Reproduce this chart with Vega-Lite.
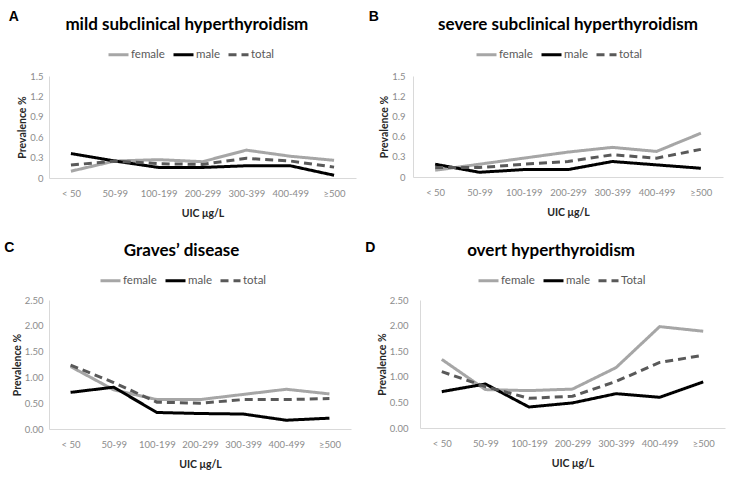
{
  "$schema": "https://vega.github.io/schema/vega-lite/v6.json",
  "background": "white",
  "padding": {"left": 4, "top": 10, "right": 4, "bottom": 4},
  "datasets": {
    "d": [
      {"p": "A", "s": "female", "u": "< 50", "v": 0.1},
      {"p": "A", "s": "female", "u": "50-99", "v": 0.25},
      {"p": "A", "s": "female", "u": "100-199", "v": 0.27},
      {"p": "A", "s": "female", "u": "200-299", "v": 0.24},
      {"p": "A", "s": "female", "u": "300-399", "v": 0.41},
      {"p": "A", "s": "female", "u": "400-499", "v": 0.32},
      {"p": "A", "s": "female", "u": "≥500", "v": 0.26},
      {"p": "A", "s": "male", "u": "< 50", "v": 0.36},
      {"p": "A", "s": "male", "u": "50-99", "v": 0.25},
      {"p": "A", "s": "male", "u": "100-199", "v": 0.155},
      {"p": "A", "s": "male", "u": "200-299", "v": 0.155},
      {"p": "A", "s": "male", "u": "300-399", "v": 0.18},
      {"p": "A", "s": "male", "u": "400-499", "v": 0.18},
      {"p": "A", "s": "male", "u": "≥500", "v": 0.04},
      {"p": "A", "s": "total", "u": "< 50", "v": 0.19},
      {"p": "A", "s": "total", "u": "50-99", "v": 0.25},
      {"p": "A", "s": "total", "u": "100-199", "v": 0.21},
      {"p": "A", "s": "total", "u": "200-299", "v": 0.2},
      {"p": "A", "s": "total", "u": "300-399", "v": 0.29},
      {"p": "A", "s": "total", "u": "400-499", "v": 0.25},
      {"p": "A", "s": "total", "u": "≥500", "v": 0.16},
      {"p": "B", "s": "female", "u": "< 50", "v": 0.1},
      {"p": "B", "s": "female", "u": "50-99", "v": 0.19},
      {"p": "B", "s": "female", "u": "100-199", "v": 0.28},
      {"p": "B", "s": "female", "u": "200-299", "v": 0.37},
      {"p": "B", "s": "female", "u": "300-399", "v": 0.44},
      {"p": "B", "s": "female", "u": "400-499", "v": 0.38},
      {"p": "B", "s": "female", "u": "≥500", "v": 0.65},
      {"p": "B", "s": "male", "u": "< 50", "v": 0.19},
      {"p": "B", "s": "male", "u": "50-99", "v": 0.07},
      {"p": "B", "s": "male", "u": "100-199", "v": 0.11},
      {"p": "B", "s": "male", "u": "200-299", "v": 0.11},
      {"p": "B", "s": "male", "u": "300-399", "v": 0.23},
      {"p": "B", "s": "male", "u": "400-499", "v": 0.18},
      {"p": "B", "s": "male", "u": "≥500", "v": 0.13},
      {"p": "B", "s": "total", "u": "< 50", "v": 0.14},
      {"p": "B", "s": "total", "u": "50-99", "v": 0.14},
      {"p": "B", "s": "total", "u": "100-199", "v": 0.19},
      {"p": "B", "s": "total", "u": "200-299", "v": 0.23},
      {"p": "B", "s": "total", "u": "300-399", "v": 0.33},
      {"p": "B", "s": "total", "u": "400-499", "v": 0.28},
      {"p": "B", "s": "total", "u": "≥500", "v": 0.41},
      {"p": "C", "s": "female", "u": "< 50", "v": 1.21},
      {"p": "C", "s": "female", "u": "50-99", "v": 0.76},
      {"p": "C", "s": "female", "u": "100-199", "v": 0.57},
      {"p": "C", "s": "female", "u": "200-299", "v": 0.57},
      {"p": "C", "s": "female", "u": "300-399", "v": 0.67},
      {"p": "C", "s": "female", "u": "400-499", "v": 0.77},
      {"p": "C", "s": "female", "u": "≥500", "v": 0.68},
      {"p": "C", "s": "male", "u": "< 50", "v": 0.71},
      {"p": "C", "s": "male", "u": "50-99", "v": 0.81},
      {"p": "C", "s": "male", "u": "100-199", "v": 0.32},
      {"p": "C", "s": "male", "u": "200-299", "v": 0.3},
      {"p": "C", "s": "male", "u": "300-399", "v": 0.29},
      {"p": "C", "s": "male", "u": "400-499", "v": 0.17},
      {"p": "C", "s": "male", "u": "≥500", "v": 0.21},
      {"p": "C", "s": "total", "u": "< 50", "v": 1.24},
      {"p": "C", "s": "total", "u": "50-99", "v": 0.9},
      {"p": "C", "s": "total", "u": "100-199", "v": 0.52},
      {"p": "C", "s": "total", "u": "200-299", "v": 0.5},
      {"p": "C", "s": "total", "u": "300-399", "v": 0.57},
      {"p": "C", "s": "total", "u": "400-499", "v": 0.57},
      {"p": "C", "s": "total", "u": "≥500", "v": 0.59},
      {"p": "D", "s": "female", "u": "< 50", "v": 1.34},
      {"p": "D", "s": "female", "u": "50-99", "v": 0.75},
      {"p": "D", "s": "female", "u": "100-199", "v": 0.73},
      {"p": "D", "s": "female", "u": "200-299", "v": 0.76},
      {"p": "D", "s": "female", "u": "300-399", "v": 1.18},
      {"p": "D", "s": "female", "u": "400-499", "v": 1.98},
      {"p": "D", "s": "female", "u": "≥500", "v": 1.89},
      {"p": "D", "s": "male", "u": "< 50", "v": 0.71},
      {"p": "D", "s": "male", "u": "50-99", "v": 0.86},
      {"p": "D", "s": "male", "u": "100-199", "v": 0.41},
      {"p": "D", "s": "male", "u": "200-299", "v": 0.49},
      {"p": "D", "s": "male", "u": "300-399", "v": 0.67},
      {"p": "D", "s": "male", "u": "400-499", "v": 0.6},
      {"p": "D", "s": "male", "u": "≥500", "v": 0.9},
      {"p": "D", "s": "Total", "u": "< 50", "v": 1.1},
      {"p": "D", "s": "Total", "u": "50-99", "v": 0.81},
      {"p": "D", "s": "Total", "u": "100-199", "v": 0.58},
      {"p": "D", "s": "Total", "u": "200-299", "v": 0.62},
      {"p": "D", "s": "Total", "u": "300-399", "v": 0.91},
      {"p": "D", "s": "Total", "u": "400-499", "v": 1.28},
      {"p": "D", "s": "Total", "u": "≥500", "v": 1.42}
    ]
  },
  "config": {
    "font": "Lato",
    "view": {"stroke": null},
    "axis": {
      "domainColor": "#d9d9d9",
      "domainWidth": 1,
      "ticks": false,
      "grid": false,
      "labelColor": "#8c8c8c",
      "labelFontSize": 9.5,
      "titleFontSize": 10.5,
      "titleFontWeight": "bold",
      "titleColor": "#262626"
    },
    "axisX": {"labelAngle": 0, "labelPadding": 10, "titlePadding": 11},
    "axisY": {"labelPadding": 6, "titlePadding": 2},
    "title": {"fontSize": 17, "fontWeight": "bold", "color": "#000000", "offset": 9, "frame": "bounds"},
    "legend": {
      "orient": "none",
      "direction": "horizontal",
      "symbolType": "stroke",
      "symbolSize": 400,
      "symbolStrokeWidth": 3,
      "labelFontSize": 11.5,
      "labelColor": "#595959",
      "labelOffset": 1,
      "columnPadding": 2,
      "title": null
    }
  },
  "spacing": 22,
  "resolve": {"scale": {"color": "independent", "strokeDash": "independent"}, "legend": {"color": "independent", "strokeDash": "independent"}},
  "vconcat": [
    {
      "spacing": 12,
      "resolve": {"scale": {"color": "independent", "strokeDash": "independent"}, "legend": {"color": "independent", "strokeDash": "independent"}},
      "hconcat": [
        {
          "title": {"text": "A", "anchor": "start", "fontSize": 14, "fontWeight": "bold", "font": "Liberation Sans", "offset": -8, "dx": -9, "frame": "bounds"},
          "resolve": {"scale": {"color": "independent", "strokeDash": "independent"}, "legend": {"color": "independent", "strokeDash": "independent"}},
          "vconcat": [
            {
              "width": 307, "height": 102,
              "title": "mild subclinical hyperthyroidism",
              "data": {"name": "d"},
              "transform": [{"filter": "datum.p == 'A'"}],
              "mark": {"type": "line", "strokeWidth": 3},
              "encoding": {
                "x": {"field": "u", "type": "ordinal", "sort": ["< 50", "50-99", "100-199", "200-299", "300-399", "400-499", "≥500"], "title": "UIC μg/L"},
                "y": {"field": "v", "type": "quantitative", "scale": {"domain": [0, 1.5]}, "axis": {"values": [0, 0.3, 0.6, 0.9, 1.2, 1.5], "format": ".1~f"}, "title": "Prevalence %"},
                "color": {"field": "s", "type": "nominal", "scale": {"domain": ["female", "male", "total"], "range": ["#a6a6a6", "#000000", "#595959"]}, "legend": {"legendX": 58, "legendY": -33}},
                "strokeDash": {"field": "s", "type": "nominal", "scale": {"domain": ["female", "male", "total"], "range": [[1, 0], [1, 0], [8, 5]]}, "legend": {"legendX": 58, "legendY": -33}}
              }
            }
          ]
        },
        {
          "title": {"text": "B", "anchor": "start", "fontSize": 14, "fontWeight": "bold", "font": "Liberation Sans", "offset": -8, "dx": -11, "frame": "bounds"},
          "resolve": {"scale": {"color": "independent", "strokeDash": "independent"}, "legend": {"color": "independent", "strokeDash": "independent"}},
          "vconcat": [
            {
              "width": 310, "height": 101,
              "title": {"text": "severe subclinical hyperthyroidism", "frame": "group"},
              "data": {"name": "d"},
              "transform": [{"filter": "datum.p == 'B'"}],
              "mark": {"type": "line", "strokeWidth": 3},
              "encoding": {
                "x": {"field": "u", "type": "ordinal", "sort": ["< 50", "50-99", "100-199", "200-299", "300-399", "400-499", "≥500"], "title": "UIC μg/L"},
                "y": {"field": "v", "type": "quantitative", "scale": {"domain": [0, 1.5]}, "axis": {"values": [0, 0.3, 0.6, 0.9, 1.2, 1.5], "format": ".1~f", "labelPadding": 8}, "title": "Prevalence %"},
                "color": {"field": "s", "type": "nominal", "scale": {"domain": ["female", "male", "total"], "range": ["#a6a6a6", "#000000", "#595959"]}, "legend": {"legendX": 62, "legendY": -33}},
                "strokeDash": {"field": "s", "type": "nominal", "scale": {"domain": ["female", "male", "total"], "range": [[1, 0], [1, 0], [8, 5]]}, "legend": {"legendX": 62, "legendY": -33}}
              }
            }
          ]
        }
      ]
    },
    {
      "spacing": 14,
      "resolve": {"scale": {"color": "independent", "strokeDash": "independent"}, "legend": {"color": "independent", "strokeDash": "independent"}},
      "hconcat": [
        {
          "title": {"text": "C", "anchor": "start", "fontSize": 14, "fontWeight": "bold", "font": "Liberation Sans", "offset": -13, "dx": -8, "frame": "bounds"},
          "resolve": {"scale": {"color": "independent", "strokeDash": "independent"}, "legend": {"color": "independent", "strokeDash": "independent"}},
          "vconcat": [
            {
              "width": 302, "height": 129,
              "title": "Graves’ disease",
              "data": {"name": "d"},
              "transform": [{"filter": "datum.p == 'C'"}],
              "mark": {"type": "line", "strokeWidth": 3},
              "encoding": {
                "x": {"field": "u", "type": "ordinal", "sort": ["< 50", "50-99", "100-199", "200-299", "300-399", "400-499", "≥500"], "title": "UIC μg/L"},
                "y": {"field": "v", "type": "quantitative", "scale": {"domain": [0, 2.5]}, "axis": {"values": [0, 0.5, 1, 1.5, 2, 2.5], "format": ".2f", "labelPadding": 6}, "title": "Prevalence %"},
                "color": {"field": "s", "type": "nominal", "scale": {"domain": ["female", "male", "total"], "range": ["#a6a6a6", "#000000", "#595959"]}, "legend": {"legendX": 50, "legendY": -31}},
                "strokeDash": {"field": "s", "type": "nominal", "scale": {"domain": ["female", "male", "total"], "range": [[1, 0], [1, 0], [8, 5]]}, "legend": {"legendX": 50, "legendY": -31}}
              }
            }
          ]
        },
        {
          "title": {"text": "D", "anchor": "start", "fontSize": 14, "fontWeight": "bold", "font": "Liberation Sans", "offset": -13, "dx": -12, "frame": "bounds"},
          "resolve": {"scale": {"color": "independent", "strokeDash": "independent"}, "legend": {"color": "independent", "strokeDash": "independent"}},
          "vconcat": [
            {
              "width": 305, "height": 128,
              "title": "overt hyperthyroidism",
              "data": {"name": "d"},
              "transform": [{"filter": "datum.p == 'D'"}],
              "mark": {"type": "line", "strokeWidth": 3},
              "encoding": {
                "x": {"field": "u", "type": "ordinal", "sort": ["< 50", "50-99", "100-199", "200-299", "300-399", "400-499", "≥500"], "title": "UIC μg/L"},
                "y": {"field": "v", "type": "quantitative", "scale": {"domain": [0, 2.5]}, "axis": {"values": [0, 0.5, 1, 1.5, 2, 2.5], "format": ".2f", "labelPadding": 12}, "title": "Prevalence %"},
                "color": {"field": "s", "type": "nominal", "scale": {"domain": ["female", "male", "Total"], "range": ["#a6a6a6", "#000000", "#595959"]}, "legend": {"legendX": 57, "legendY": -31}},
                "strokeDash": {"field": "s", "type": "nominal", "scale": {"domain": ["female", "male", "Total"], "range": [[1, 0], [1, 0], [8, 5]]}, "legend": {"legendX": 57, "legendY": -31}}
              }
            }
          ]
        }
      ]
    }
  ]
}
